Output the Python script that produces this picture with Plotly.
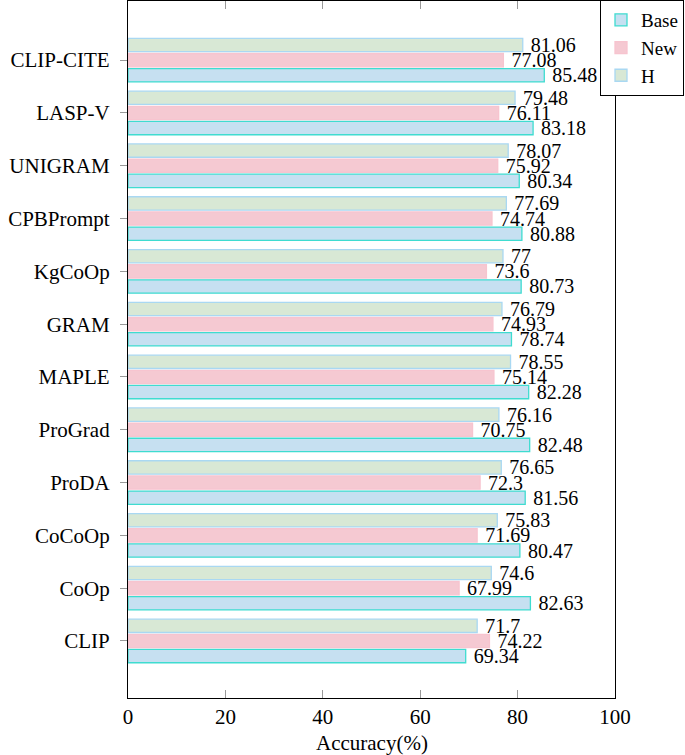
import plotly.graph_objects as go

methods = ["CLIP", "CoOp", "CoCoOp", "ProDA", "ProGrad", "MAPLE", "GRAM",
           "KgCoOp", "CPBPrompt", "UNIGRAM", "LASP-V", "CLIP-CITE"]
base = [69.34, 82.63, 80.47, 81.56, 82.48, 82.28, 78.74, 80.73, 80.88, 80.34, 83.18, 85.48]
new = [74.22, 67.99, 71.69, 72.3, 70.75, 75.14, 74.93, 73.6, 74.74, 75.92, 76.11, 77.08]
hm = [71.7, 74.6, 75.83, 76.65, 76.16, 78.55, 76.79, 77, 77.69, 78.07, 79.48, 81.06]
x_ticks = [0, 20, 40, 60, 80, 100]

FONT = "Liberation Serif"
FS = 21
LFS = 20

series = [
    ("Base", base, "#c6e0f1", "#3fdcd0"),
    ("New", new, "#f5c9d2", "#f7c4cf"),
    ("H", hm, "#d8e8d5", "#a9d8f2"),
]

fig = go.Figure()
for name, vals, fill, line in series:
    fig.add_trace(go.Bar(
        name=name, y=methods, x=vals, orientation="h",
        marker=dict(color=fill, line=dict(color=line, width=1.3)),
        text=["\u00a0" + f"{v:g}" for v in vals], textposition="outside",
        textfont=dict(family=FONT, size=LFS, color="black"),
        constraintext="none", cliponaxis=False,
    ))

fig.update_layout(
    barmode="group", bargap=0.14, bargroupgap=0.12,
    width=685, height=755,
    margin=dict(l=128, r=70, t=1, b=57, autoexpand=False),
    plot_bgcolor="white", paper_bgcolor="white",
    font=dict(family=FONT, size=FS, color="black"),
    showlegend=True,
    legend=dict(xref="container", yref="container", x=600 / 685, y=1.0,
                xanchor="left", yanchor="top",
                bordercolor="black", borderwidth=1, bgcolor="white",
                font=dict(family=FONT, size=19), itemwidth=30,
                tracegroupgap=0),
    annotations=[dict(text="Accuracy(%)", xref="paper", yref="paper",
                      x=0.5, y=0, yshift=-45, xanchor="center", yanchor="middle",
                      showarrow=False, font=dict(family=FONT, size=FS))],
)
fig.update_xaxes(
    range=[0, 100], tickvals=x_ticks, ticks="inside", ticklen=8,
    tickcolor="#999", showline=True, linecolor="black", linewidth=1.2,
    mirror="ticks", showgrid=False, zeroline=False, automargin=False,
    tickfont=dict(family=FONT, size=FS),
)
fig.update_yaxes(
    range=[-1.08, 12.12], ticks="outside", ticklen=7, tickcolor="#999",
    showline=True, linecolor="black", linewidth=1.2, mirror=True,
    showgrid=False, zeroline=False, automargin=False, ticklabelstandoff=6,
    tickfont=dict(family=FONT, size=FS),
)
fig.write_html("out.html", config={"displayModeBar": False},
               post_script="document.body.style.margin='0';")
